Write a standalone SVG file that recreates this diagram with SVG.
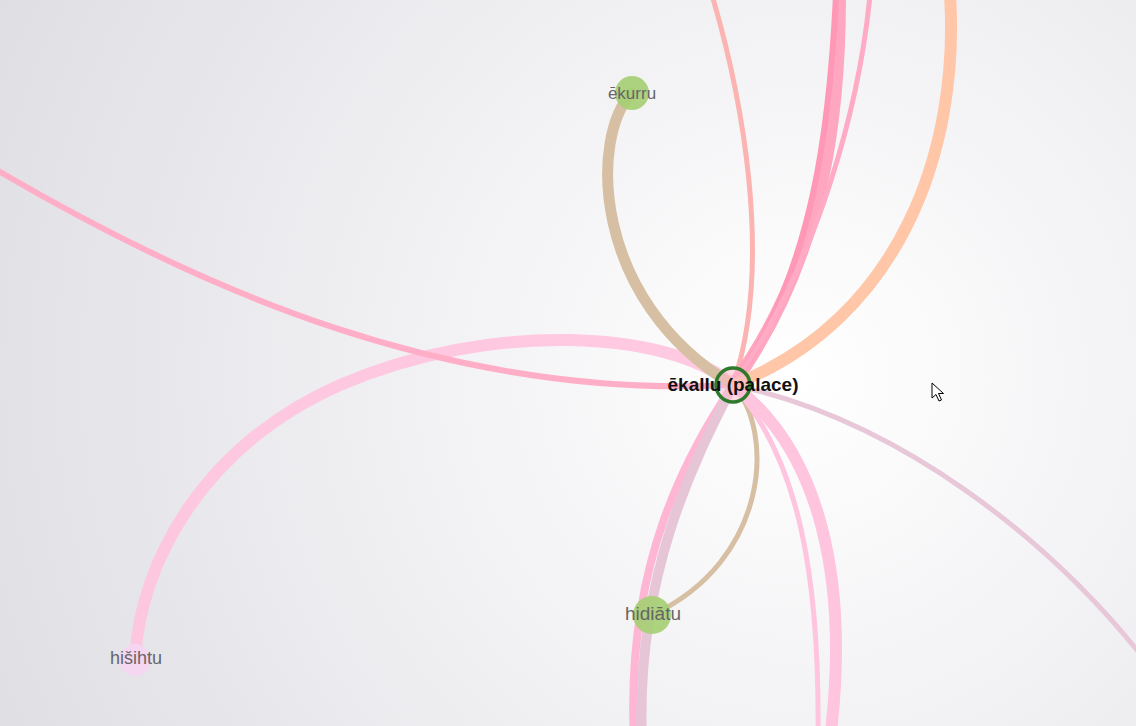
<svg xmlns="http://www.w3.org/2000/svg" width="1136" height="726" viewBox="0 0 1136 726">
<defs>
<radialGradient id="bg" cx="800" cy="375" r="900" gradientUnits="userSpaceOnUse">
<stop offset="0" stop-color="#ffffff"/>
<stop offset="0.5" stop-color="#efeff2"/>
<stop offset="1" stop-color="#dedee3"/>
</radialGradient>
<style>
.e{fill:none;stroke-linecap:round;}
.lbl{font-family:"Liberation Sans",Arial,sans-serif;fill:#666;text-anchor:middle;}
.main{font-family:"Liberation Sans",Arial,sans-serif;font-weight:bold;fill:#111;text-anchor:middle;font-size:19px;}
</style>
</defs>
<rect width="1136" height="726" fill="url(#bg)"/>
<g id="connectors">
<path class="e" d="M733,385 C670,330 490,320 340,385 C205,445 140,560 135,660" stroke="#ffc4de" stroke-width="12" opacity="0.9"/>
<path class="e" d="M-10,166 C200,290 450,400 733,385" stroke="#ffaec8" stroke-width="6"/>
<path class="e" d="M632,93 C590,135 590,300 733,385" stroke="#d6bfa2" stroke-width="11"/>
<path class="e" d="M733,385 C775,430 770,560 652,615" stroke="#d6bfa2" stroke-width="5"/>
<path class="e" d="M733,385 C690,450 625,560 634,740" stroke="#ffb6d4" stroke-width="8"/>
<path class="e" d="M733,385 C700,450 635,570 642,740" stroke="#e6c6d6" stroke-width="10"/>
<path class="e" d="M733,385 C800,460 820,580 818,740" stroke="#ffc4de" stroke-width="5"/>
<path class="e" d="M733,385 C820,450 850,580 830,740" stroke="#ffc4de" stroke-width="12"/>
<path class="e" d="M733,385 C900,420 1050,540 1145,660" stroke="#e8c8d8" stroke-width="5"/>
<path class="e" d="M712,-5 C740,90 775,260 733,385" stroke="#fbb4b2" stroke-width="5"/>
<path class="e" d="M733,385 C830,250 840,100 840,-5" stroke="#ffa6c0" stroke-width="12"/>
<path class="e" d="M733,385 C815,270 830,120 836,-5" stroke="#ff98b6" stroke-width="6"/>
<path class="e" d="M733,385 C820,260 860,100 870,-5" stroke="#ffabc6" stroke-width="5"/>
<path class="e" d="M733,385 C900,320 960,150 950,-5" stroke="#ffc6a8" stroke-width="12"/>
</g>
<g id="node-ekurru">
<circle cx="632" cy="93" r="17" fill="#a6cf74" opacity="0.92"/>
<text class="lbl" x="632" y="99" font-size="17">ēkurru</text>
</g>
<g id="node-hidiatu">
<circle cx="652" cy="615" r="19" fill="#a6cf74" opacity="0.92"/>
<text class="lbl" x="653" y="620" font-size="19">hidiātu</text>
</g>
<g id="node-hisihtu">
<circle cx="135" cy="660" r="16" fill="#f6d6f2" opacity="0.95"/>
<text class="lbl" x="136" y="664" font-size="18">hišihtu</text>
</g>
<g id="node-ekallu">
<circle cx="733" cy="385" r="17" fill="#ffb8cc" fill-opacity="0.5" stroke="#2d7a2d" stroke-width="3.5"/>
<text class="main" x="733" y="391">ēkallu (palace)</text>
</g>
<g id="cursor">
<path d="M932,383 L932,398 L936,394.5 L939,401 L941.5,400 L938.5,393.5 L943.5,393.5 Z" fill="#fff" stroke="#000" stroke-width="1" stroke-linejoin="round"/>
</g>
</svg>
